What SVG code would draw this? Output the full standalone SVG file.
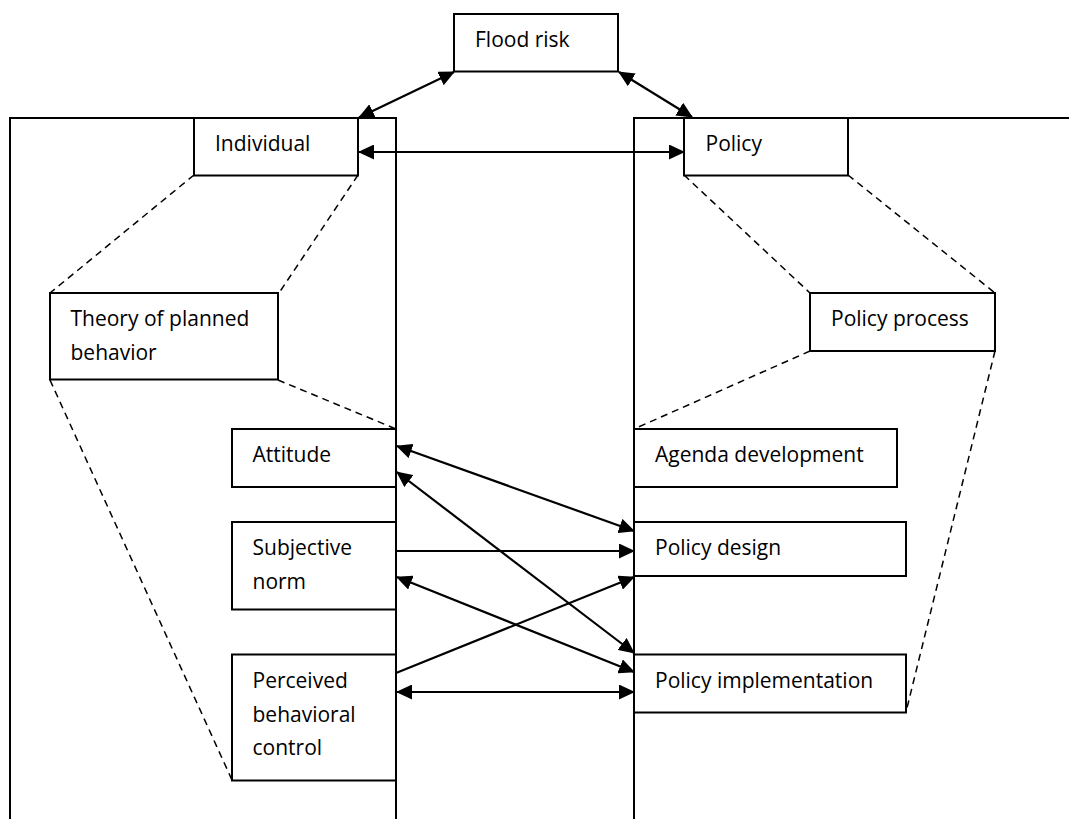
<svg xmlns="http://www.w3.org/2000/svg" width="1069" height="819" viewBox="0 0 1069 819">
<style>
.frame{fill:none;stroke:#000;stroke-width:2}
.box{fill:#fff;stroke:#000;stroke-width:2}
.dash{fill:none;stroke:#000;stroke-width:1.5;stroke-dasharray:7 5}
.arr{fill:none;stroke:#000;stroke-width:2.2}
.lbl{font-family:"Open Sans","Noto Sans",sans-serif;font-size:21px;fill:#000}
</style>
<defs>
<marker id="ah" markerUnits="userSpaceOnUse" markerWidth="16" markerHeight="15" refX="15" refY="7.5" orient="auto-start-reverse" viewBox="0 0 16 15">
<path d="M0,0 L16,7.5 L0,15 z" fill="#000"/>
</marker>
</defs>
<rect width="1069" height="819" fill="#fff"/>
<g id="frames">
<path class="frame" d="M10,825 V118 H396 V825"/>
<path class="frame" d="M634,825 V118 H1075"/>
</g>
<g id="dashed-links">
<line class="dash" x1="194" y1="175" x2="50" y2="293"/>
<line class="dash" x1="358" y1="175" x2="279" y2="293"/>
<line class="dash" x1="50" y1="380" x2="232" y2="780"/>
<line class="dash" x1="278" y1="380" x2="396" y2="429"/>
<line class="dash" x1="684" y1="175" x2="810" y2="293"/>
<line class="dash" x1="848" y1="175" x2="995" y2="293"/>
<line class="dash" x1="810" y1="351" x2="634" y2="429"/>
<line class="dash" x1="995" y1="351" x2="906" y2="712"/>
</g>
<g id="flood-risk"><rect class="box" x="454" y="14" width="164" height="57.5"/><text class="lbl" x="475" y="46.5">Flood risk</text></g>
<g id="individual"><rect class="box" x="194" y="118" width="164" height="57.5"/><text class="lbl" x="215" y="151">Individual</text></g>
<g id="policy"><rect class="box" x="684" y="118" width="164" height="57.5"/><text class="lbl" x="705.5" y="151">Policy</text></g>
<g id="tpb"><rect class="box" x="50" y="293" width="228" height="86.5"/><text class="lbl" x="70.5" y="326">Theory of planned</text><text class="lbl" x="70.5" y="359.5">behavior</text></g>
<g id="policy-process"><rect class="box" x="810" y="293" width="185" height="58"/><text class="lbl" x="831" y="326">Policy process</text></g>
<g id="attitude"><rect class="box" x="232" y="429" width="164" height="58"/><text class="lbl" x="252.5" y="462">Attitude</text></g>
<g id="subjective-norm"><rect class="box" x="232" y="522" width="164" height="87.5"/><text class="lbl" x="252.5" y="555">Subjective</text><text class="lbl" x="252.5" y="589">norm</text></g>
<g id="pbc"><rect class="box" x="232" y="654.5" width="164" height="126"/><text class="lbl" x="252.5" y="687.5">Perceived</text><text class="lbl" x="252.5" y="721.5">behavioral</text><text class="lbl" x="252.5" y="755">control</text></g>
<g id="agenda"><rect class="box" x="634" y="429" width="263" height="58"/><text class="lbl" x="655" y="462">Agenda development</text></g>
<g id="policy-design"><rect class="box" x="634" y="522" width="272" height="54"/><text class="lbl" x="655" y="555">Policy design</text></g>
<g id="policy-implementation"><rect class="box" x="634" y="654.5" width="272" height="58"/><text class="lbl" x="655" y="687.5">Policy implementation</text></g>
<g id="connectors">
<line class="arr" x1="454" y1="72" x2="359" y2="117.5" marker-start="url(#ah)" marker-end="url(#ah)"/>
<line class="arr" x1="619" y1="72" x2="692" y2="117" marker-start="url(#ah)" marker-end="url(#ah)"/>
<line class="arr" x1="359" y1="152" x2="684" y2="152" marker-start="url(#ah)" marker-end="url(#ah)"/>
<line class="arr" x1="397" y1="446" x2="634" y2="531" marker-start="url(#ah)" marker-end="url(#ah)"/>
<line class="arr" x1="397" y1="472" x2="634" y2="653" marker-start="url(#ah)" marker-end="url(#ah)"/>
<line class="arr" x1="396" y1="551" x2="634" y2="551" marker-end="url(#ah)"/>
<line class="arr" x1="397" y1="577" x2="634" y2="672" marker-start="url(#ah)" marker-end="url(#ah)"/>
<line class="arr" x1="396" y1="673" x2="634" y2="577" marker-end="url(#ah)"/>
<line class="arr" x1="397" y1="692" x2="634" y2="692" marker-start="url(#ah)" marker-end="url(#ah)"/>
</g>
</svg>
